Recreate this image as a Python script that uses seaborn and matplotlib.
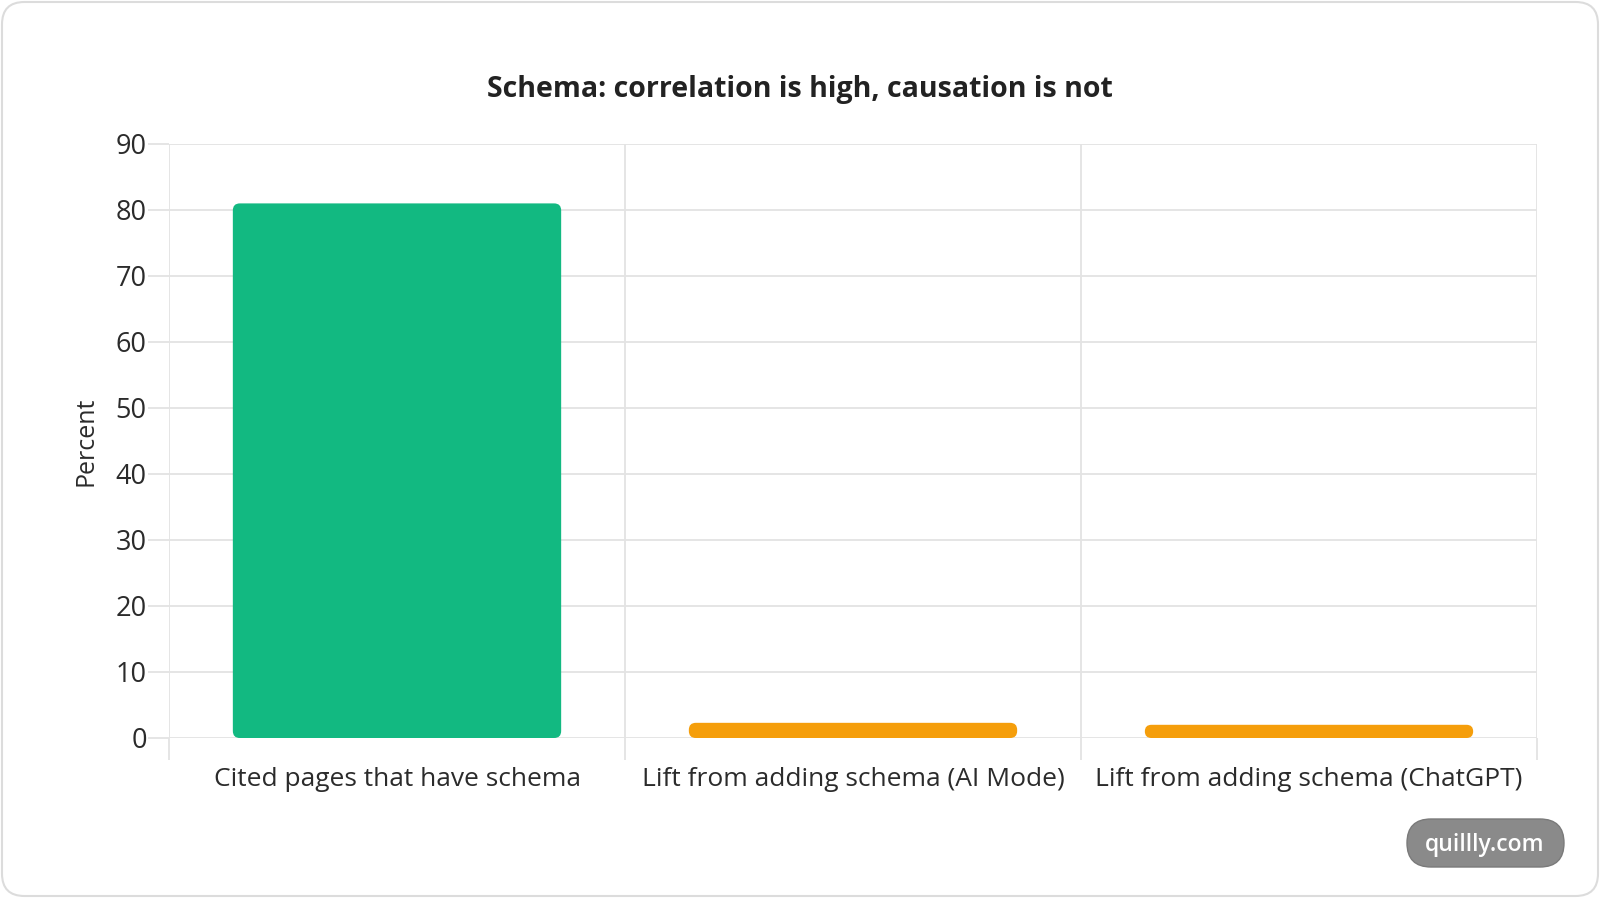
import matplotlib
matplotlib.use("Agg")
import matplotlib.pyplot as plt
import seaborn as sns
import pandas as pd
from matplotlib.patches import FancyBboxPatch
from matplotlib.ticker import FixedLocator

# data
categories = [
    "Cited pages that have schema",
    "Lift from adding schema (AI Mode)",
    "Lift from adding schema (ChatGPT)",
]
values = [81, 2.3, 2.0]
bar_colors = ["#12B981", "#F59E0B", "#F59E0B"]
y_ticks = [0, 10, 20, 30, 40, 50, 60, 70, 80, 90]

df = pd.DataFrame({"category": categories, "value": values})

sns.set_theme(style="white")
plt.rcParams["font.family"] = ["Open Sans", "DejaVu Sans"]

W, H = 1600, 898
fig = plt.figure(figsize=(W / 100, H / 100), dpi=100)
fig.patch.set_facecolor("white")

# card border
card = FancyBboxPatch((2 / W, 2 / H), 1 - 4 / W, 1 - 4 / H,
                      boxstyle="round,pad=0,rounding_size=0.014",
                      mutation_aspect=W / H, transform=fig.transFigure,
                      facecolor="none", edgecolor="#dcdcdc", linewidth=1.5,
                      zorder=-1)
fig.patches.append(card)

ax = fig.add_axes([169 / W, (H - 738) / H, 1368 / W, 594 / H])
ax.set_facecolor("none")

sns.barplot(data=df, x="category", y="value", hue="category",
            palette=bar_colors, width=0.72, legend=False, ax=ax,
            saturation=1, zorder=3)

ax.set_xlim(-0.5, 2.5)
ax.set_ylim(0, 90)

# swap rectangular bars for rounded ones
xpp = 3 / 1368
ypp = 90 / 594
for p in list(ax.patches):
    x, y = p.get_x(), p.get_y()
    w, h = p.get_width(), p.get_height()
    fc = p.get_facecolor()
    p.set_visible(False)
    r = min(7, h / ypp / 2)
    rb = FancyBboxPatch((x, y), w, h,
                        boxstyle=f"round,pad=0,rounding_size={r * xpp}",
                        mutation_aspect=ypp / xpp, facecolor=fc,
                        edgecolor="none", zorder=3)
    ax.add_patch(rb)

grid_c = "#e3e3e3"
ax.set_yticks(y_ticks)
ax.xaxis.set_minor_locator(FixedLocator([-0.5, 0.5, 1.5, 2.5]))
ax.grid(True, axis="y", which="major", color=grid_c, linewidth=1.3, zorder=0)
ax.grid(True, axis="x", which="minor", color=grid_c, linewidth=1.3, zorder=0)
ax.grid(False, axis="x", which="major")
for s in ax.spines.values():
    s.set_visible(False)

ax.tick_params(axis="y", which="major", length=15, width=1.3, color=grid_c,
               labelsize=19.5, labelcolor="#2b2b2b", pad=1, left=True)
ax.tick_params(axis="x", which="major", length=0, labelsize=19,
               labelcolor="#2b2b2b", pad=21)
ax.tick_params(axis="x", which="minor", length=16, width=1.3, color=grid_c,
               bottom=True)

ax.set_xlabel("")
ax.set_ylabel("Percent", fontsize=18, color="#2b2b2b", labelpad=12)

fig.text(0.5, 1 - 90 / H, "Schema: correlation is high, causation is not",
         ha="center", va="center", fontsize=20.5, fontweight="bold",
         color="#222222")

# watermark pill
pill = FancyBboxPatch((1407 / W, (H - 867) / H), 157 / W, 48 / H,
                      boxstyle="round,pad=0,rounding_size=0.015",
                      mutation_aspect=W / H, transform=fig.transFigure,
                      facecolor="#8a8a8a", edgecolor="#7a7a7a",
                      linewidth=1, zorder=5)
fig.patches.append(pill)
fig.text(1485 / W, 1 - 845 / H, "quillly.com", ha="center", va="center",
         fontsize=16.5, fontweight="semibold", color="white", zorder=6)

fig.savefig("out.png", dpi=100, facecolor="white")
